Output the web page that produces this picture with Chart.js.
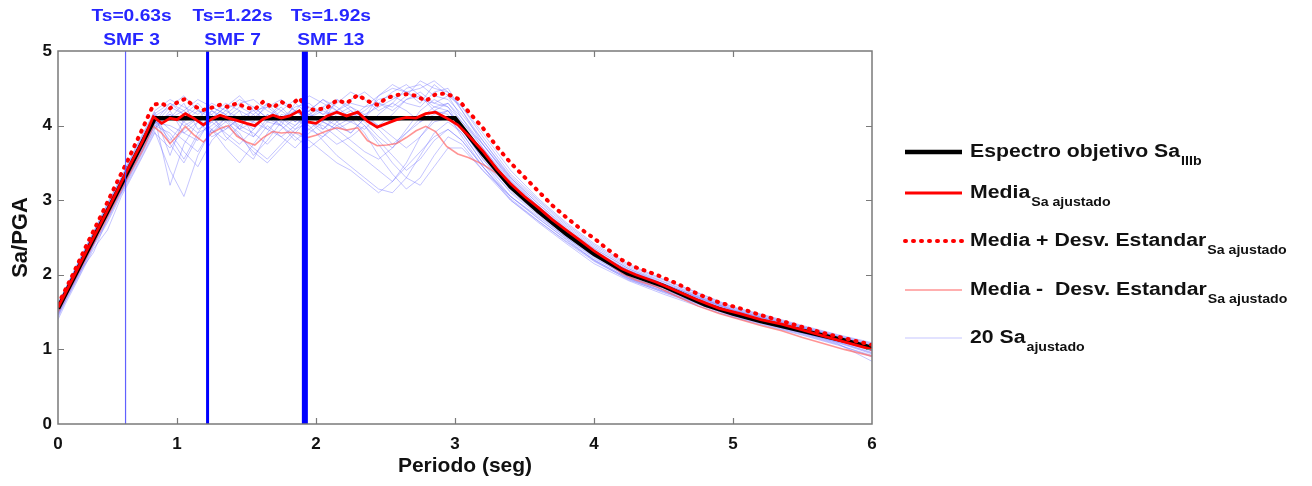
<!DOCTYPE html>
<html>
<head>
<meta charset="utf-8">
<script src="https://cdn.jsdelivr.net/npm/chart.js@4.4.0/dist/chart.umd.min.js"></script>
<style>
  html, body { margin: 0; padding: 0; background: #fff; }
  #wrap { width: 1312px; height: 486px; }
</style>
</head>
<body>
<div id="wrap"><canvas id="espectro" width="1312" height="486"></canvas></div>
<script>
// espectro objetivo Sa IIIb
const espectroT  = [0.144, 0.84, 3.0, 3.2, 3.4, 3.6, 3.8, 4.0, 4.24, 4.5, 4.8, 5.0, 5.2, 5.5, 5.8, 6.0];
const espectroSa = [1.55, 4.10, 4.10, 3.62, 3.18, 2.85, 2.55, 2.28, 2.02, 1.85, 1.60, 1.48, 1.38, 1.25, 1.12, 1.02];

// media y media +/- desviacion estandar de los Sa ajustados
const periodosMedia = [0.144, 0.25, 0.35, 0.45, 0.55, 0.65, 0.75, 0.83, 0.89, 0.95, 1.0, 1.06, 1.12, 1.19, 1.25, 1.31,
  1.37, 1.43, 1.5, 1.56, 1.62, 1.69, 1.75, 1.81, 1.88, 1.94, 2.0, 2.08, 2.15, 2.22, 2.3, 2.37, 2.44, 2.51, 2.58, 2.65,
  2.72, 2.79, 2.86, 2.94, 3.02, 3.1, 3.2, 3.3, 3.4, 3.5, 3.6, 3.7, 3.8, 3.9, 4.0, 4.1, 4.2, 4.3, 4.45, 4.6, 4.75, 4.9,
  5.05, 5.2, 5.35, 5.5, 5.65, 5.8, 6.0];
const media = [1.56, 1.95, 2.32, 2.68, 3.05, 3.43, 3.78, 4.12, 4.03, 4.10, 4.08, 4.16, 4.10, 4.01, 4.09, 4.14,
  4.10, 4.07, 4.03, 4.00, 4.09, 4.14, 4.10, 4.13, 4.20, 4.05, 4.03, 4.13, 4.18, 4.13, 4.18, 4.06, 3.98, 4.03, 4.08, 4.11,
  4.10, 4.16, 4.18, 4.10, 4.01, 3.86, 3.66, 3.42, 3.22, 3.05, 2.90, 2.74, 2.60, 2.46, 2.32, 2.20, 2.08, 2.00, 1.90, 1.78,
  1.66, 1.55, 1.48, 1.40, 1.34, 1.26, 1.18, 1.10, 1.00];
const mediaMas = [1.60, 2.00, 2.40, 2.78, 3.17, 3.55, 3.95, 4.28, 4.30, 4.23, 4.31, 4.36, 4.26, 4.21, 4.24, 4.28,
  4.25, 4.30, 4.24, 4.22, 4.32, 4.24, 4.32, 4.26, 4.37, 4.22, 4.21, 4.24, 4.34, 4.30, 4.41, 4.33, 4.28, 4.37, 4.41, 4.42,
  4.40, 4.33, 4.42, 4.43, 4.36, 4.18, 3.97, 3.72, 3.50, 3.31, 3.12, 2.93, 2.77, 2.62, 2.49, 2.34, 2.20, 2.10, 2.00, 1.88,
  1.74, 1.63, 1.55, 1.46, 1.38, 1.30, 1.22, 1.15, 1.06];
const mediaMenos = [1.50, 1.88, 2.24, 2.60, 2.96, 3.32, 3.66, 3.99, 3.90, 3.76, 3.86, 3.99, 3.88, 3.78, 3.90, 3.96,
  4.00, 3.86, 3.78, 3.74, 3.84, 3.92, 3.90, 3.91, 3.90, 3.84, 3.87, 3.93, 3.97, 3.94, 3.97, 3.80, 3.73, 3.74, 3.76, 3.84,
  3.93, 3.99, 3.92, 3.72, 3.62, 3.57, 3.48, 3.36, 3.20, 3.03, 2.86, 2.72, 2.56, 2.43, 2.30, 2.16, 2.02, 1.93, 1.84, 1.71,
  1.58, 1.48, 1.40, 1.32, 1.25, 1.16, 1.08, 1.00, 0.91];

// los 20 Sa ajustados
const periodos = [0.144, 0.2, 0.3, 0.4, 0.5, 0.6, 0.7, 0.84, 0.95, 1.05, 1.15, 1.25, 1.35, 1.45, 1.55, 1.65, 1.75,
  1.85, 1.95, 2.05, 2.15, 2.25, 2.35, 2.45, 2.55, 2.65, 2.75, 2.85, 2.95, 3.05, 3.2, 3.4, 3.6, 3.8, 4.0, 4.25, 4.5,
  4.75, 5.0, 5.25, 5.5, 5.75, 6.0];
const registros = [
  [1.52,1.74,2.10,2.45,2.80,3.20,3.55,4.05,4.30,4.15,4.05,4.20,4.10,3.95,4.25,4.10,4.00,4.30,4.15,4.05,4.35,4.20,4.10,4.40,4.50,4.45,4.30,4.55,4.40,4.10,3.70,3.25,2.90,2.60,2.32,2.05,1.88,1.70,1.52,1.40,1.28,1.16,1.04],
  [1.58,1.80,2.18,2.55,2.90,3.28,3.65,4.15,3.60,4.10,4.25,3.90,4.05,4.20,3.85,4.10,4.25,4.05,4.20,3.95,4.10,4.20,4.05,3.85,3.70,3.95,4.20,4.35,4.25,3.95,3.55,3.10,2.80,2.50,2.22,1.98,1.80,1.64,1.47,1.35,1.23,1.11,0.98],
  [1.45,1.66,2.02,2.40,2.75,3.10,3.45,3.95,4.20,3.90,3.80,4.10,4.25,3.95,4.05,4.30,4.10,3.95,4.15,4.25,4.05,3.90,4.10,4.30,4.45,4.55,4.40,4.20,4.30,4.05,3.75,3.30,2.95,2.62,2.35,2.08,1.90,1.72,1.54,1.42,1.30,1.18,1.06],
  [1.55,1.78,2.12,2.52,2.85,3.22,3.60,4.10,3.20,3.75,4.05,4.15,3.85,3.70,3.55,3.90,4.15,4.10,4.00,3.80,3.60,3.45,3.30,3.15,3.10,3.30,3.60,3.90,4.05,3.90,3.50,3.05,2.75,2.48,2.20,1.95,1.78,1.62,1.46,1.34,1.22,1.10,0.96],
  [1.62,1.82,2.20,2.58,2.95,3.30,3.70,4.20,4.35,4.25,4.15,4.30,4.20,4.35,4.25,4.10,4.30,4.20,4.40,4.30,4.20,4.35,4.45,4.30,4.25,4.40,4.60,4.50,4.45,4.25,3.85,3.35,3.00,2.68,2.40,2.12,1.93,1.75,1.56,1.44,1.31,1.19,1.08],
  [1.40,1.62,1.98,2.35,2.60,3.05,3.40,3.90,3.70,3.95,4.10,3.95,3.80,4.00,3.90,3.75,3.95,4.10,3.95,3.85,4.05,4.15,4.00,3.80,3.60,3.40,3.55,3.80,3.95,3.80,3.45,3.00,2.70,2.42,2.15,1.92,1.74,1.58,1.43,1.31,1.19,1.06,0.92],
  [1.50,1.72,2.08,2.48,2.82,3.18,3.50,4.00,4.10,4.30,3.95,4.05,4.20,4.10,3.95,4.15,4.05,3.90,4.10,4.20,4.10,4.05,3.95,4.15,4.30,4.20,4.05,4.15,4.20,4.00,3.60,3.15,2.85,2.56,2.28,2.02,1.85,1.68,1.50,1.38,1.26,1.14,1.01],
  [1.56,1.77,2.15,2.40,2.88,3.25,3.58,4.08,3.85,3.55,3.90,4.20,4.05,3.90,3.60,3.80,4.05,4.20,4.05,4.00,3.85,3.70,3.55,3.40,3.25,3.50,3.85,4.10,4.20,3.95,3.55,3.15,2.85,2.55,2.26,1.97,1.82,1.64,1.48,1.36,1.25,1.12,0.99],
  [1.48,1.70,2.05,2.46,2.78,3.15,3.52,4.02,4.25,4.15,4.30,4.10,4.25,4.40,4.20,4.05,4.20,4.35,4.25,4.15,4.30,4.45,4.35,4.20,4.30,4.50,4.55,4.40,4.35,4.15,3.80,3.30,2.95,2.64,2.36,2.08,1.88,1.71,1.53,1.41,1.29,1.17,1.05],
  [1.60,1.79,2.16,2.54,2.92,3.26,3.64,4.12,3.95,3.80,3.65,3.95,4.10,3.85,3.70,3.55,3.75,3.95,4.05,3.90,3.75,3.85,4.00,3.75,3.50,3.30,3.20,3.45,3.70,3.70,3.40,3.05,2.78,2.50,2.24,1.96,1.80,1.63,1.47,1.35,1.23,1.10,0.95],
  [1.53,1.75,2.11,2.50,2.86,3.21,3.57,4.06,4.15,4.05,4.20,4.10,3.95,4.10,4.20,4.25,4.10,4.00,4.20,4.35,4.25,4.10,4.20,4.35,4.40,4.30,4.25,4.45,4.50,4.20,3.75,3.28,2.92,2.60,2.30,2.06,1.87,1.69,1.52,1.40,1.27,1.15,1.03],
  [1.43,1.65,2.00,2.38,2.70,3.08,3.42,3.92,3.40,3.05,3.60,3.95,3.70,3.50,3.75,4.00,3.85,3.70,3.90,4.05,3.95,3.80,3.65,3.55,3.70,3.90,4.05,4.20,4.15,3.85,3.45,3.02,2.72,2.44,2.18,1.94,1.76,1.60,1.44,1.32,1.20,1.07,0.90],
  [1.57,1.80,2.17,2.53,2.90,3.27,3.63,4.13,4.25,4.40,4.20,4.15,4.30,4.20,4.10,4.25,4.35,4.20,4.10,4.25,4.35,4.25,4.15,4.25,4.35,4.45,4.50,4.60,4.45,4.20,3.80,3.32,2.98,2.66,2.38,2.10,1.91,1.73,1.55,1.43,1.30,1.18,1.07],
  [1.51,1.73,2.09,2.47,2.83,3.19,3.54,4.04,4.00,3.90,4.05,3.85,3.95,4.10,4.05,3.95,3.85,4.00,4.15,4.05,3.95,4.05,4.15,4.00,3.85,3.70,3.85,4.05,4.10,3.90,3.50,3.12,2.82,2.52,2.25,2.00,1.83,1.66,1.49,1.37,1.25,1.13,1.00],
  [1.47,1.69,2.04,2.30,2.76,3.14,3.50,4.00,3.90,3.65,3.45,3.80,4.00,3.85,3.65,3.50,3.70,3.90,3.80,3.65,3.50,3.40,3.25,3.10,3.25,3.45,3.65,3.85,3.95,3.80,3.45,3.05,2.76,2.47,2.19,1.93,1.77,1.61,1.45,1.33,1.21,1.08,0.84],
  [1.59,1.81,2.19,2.56,2.93,3.29,3.66,4.16,4.30,4.20,4.35,4.25,4.15,4.30,4.35,4.20,4.10,4.25,4.30,4.15,4.20,4.30,4.25,4.40,4.55,4.45,4.35,4.30,4.40,4.25,3.90,3.40,3.02,2.70,2.42,2.14,1.94,1.76,1.57,1.45,1.32,1.20,1.09],
  [1.54,1.76,2.13,2.42,2.87,3.10,3.56,4.07,3.80,4.05,3.90,4.00,4.15,3.95,3.85,4.05,4.00,3.80,3.95,4.10,4.00,3.90,4.10,3.95,3.75,3.90,4.10,4.25,4.20,3.95,3.60,3.18,2.86,2.56,2.28,2.00,1.84,1.67,1.50,1.38,1.26,1.14,1.00],
  [1.46,1.67,2.03,2.41,2.72,3.12,3.47,3.97,4.10,4.20,4.05,3.90,4.10,4.25,4.15,3.95,4.10,4.20,4.05,3.95,4.15,4.25,4.10,4.00,4.15,4.35,4.45,4.30,4.25,4.05,3.70,3.22,2.88,2.58,2.30,2.04,1.86,1.69,1.51,1.39,1.27,1.15,1.02],
  [1.61,1.83,2.21,2.57,2.96,3.31,3.68,4.18,3.75,3.50,3.85,4.05,3.90,3.75,3.95,4.15,4.00,3.85,3.70,3.85,4.00,4.10,3.90,3.60,3.35,3.15,3.30,3.60,3.85,3.75,3.40,3.00,2.72,2.45,2.20,1.95,1.78,1.62,1.46,1.34,1.22,1.09,0.94],
  [1.49,1.71,2.07,2.44,2.80,3.16,3.53,4.03,4.15,4.00,4.10,4.25,4.15,4.00,4.15,4.30,4.20,4.05,4.20,4.35,4.20,4.10,4.25,4.30,4.20,4.35,4.40,4.25,4.30,4.10,3.75,3.26,2.92,2.61,2.33,2.06,1.88,1.70,1.53,1.41,1.29,1.16,1.04]
];

// periodos Ts de los registros marcados
const tsValores = [0.63, 1.22, 1.92];
const tsTextos = ['Ts=0.63s', 'Ts=1.22s', 'Ts=1.92s'];
const smfTextos = ['SMF 3', 'SMF 7', 'SMF 13'];

// ejes
const xTicks = [0.144, 1, 2, 3, 4, 5, 6];
const xTickLabels = ['0', '1', '2', '3', '4', '5', '6'];
const yTicks = [0, 1, 2, 3, 4, 5];

// leyenda: texto principal y subindice
const leyendaTextos = ['Espectro objetivo Sa', 'Media', 'Media + Desv. Estandar', 'Media -  Desv. Estandar', '20 Sa'];
const leyendaSub = ['IIIb', 'Sa ajustado', 'Sa ajustado', 'Sa ajustado', 'ajustado'];

const FONT = '"Liberation Sans", Arial, Helvetica, sans-serif';

function puntos(xs, ys) {
    return xs.map((x, i) => ({ x: x, y: ys[i] }));
}

// estilos de cada serie (tambien usados por la leyenda)
const estiloNegro = { borderColor: '#000000', borderWidth: 4.5 };
const estiloMedia = { borderColor: '#ff0000', borderWidth: 2.8 };
const estiloMas = { borderColor: '#ff0000', borderWidth: 4, borderDash: [1, 7], borderCapStyle: 'round' };
const estiloMenos = { borderColor: 'rgba(255,90,90,0.65)', borderWidth: 1.6 };
const estiloAzul = { borderColor: 'rgba(110,110,255,0.4)', borderWidth: 1 };
const anchosTs = [1.2, 3, 6];
const coloresTs = ['rgba(80,80,255,0.9)', '#0000ff', '#0000ff'];

const datasets = [];
tsValores.forEach((t, i) => {
    datasets.push({ data: [{ x: t, y: 0 }, { x: t, y: 5 }], borderColor: coloresTs[i], borderWidth: anchosTs[i], order: 0 });
});
datasets.push(Object.assign({ data: puntos(periodosMedia, mediaMas), order: 1 }, estiloMas));
datasets.push(Object.assign({ data: puntos(periodosMedia, media), order: 2 }, estiloMedia));
datasets.push(Object.assign({ data: puntos(espectroT, espectroSa), order: 3 }, estiloNegro));
datasets.push(Object.assign({ data: puntos(periodosMedia, mediaMenos), order: 4 }, estiloMenos));
registros.forEach(r => {
    datasets.push(Object.assign({ data: puntos(periodos, r), order: 5 }, estiloAzul));
});

function textoEstirado(ctx, texto, x, y, sx) {
    ctx.save();
    ctx.translate(x, y);
    ctx.scale(sx, 1);
    ctx.fillText(texto, 0, 0);
    ctx.restore();
    return ctx.measureText(texto).width * sx;
}

// marco, ticks hacia adentro, etiquetas Ts y leyenda
const adornos = {
    id: 'adornos',
    afterDraw(chart) {
        const ctx = chart.ctx;
        const a = chart.chartArea;
        const xs = chart.scales.x, ys = chart.scales.y;
        ctx.save();
        ctx.strokeStyle = '#7a7a7a';
        ctx.lineWidth = 1.5;
        ctx.strokeRect(a.left, a.top, a.right - a.left, a.bottom - a.top);
        ctx.lineWidth = 1.2;
        ctx.beginPath();
        xTicks.slice(1, -1).forEach(v => {
            const px = Math.round(xs.getPixelForValue(v)) + 0.5;
            ctx.moveTo(px, a.bottom); ctx.lineTo(px, a.bottom - 6);
            ctx.moveTo(px, a.top); ctx.lineTo(px, a.top + 6);
        });
        yTicks.slice(1, -1).forEach(v => {
            const py = Math.round(ys.getPixelForValue(v)) + 0.5;
            ctx.moveTo(a.left, py); ctx.lineTo(a.left + 6, py);
            ctx.moveTo(a.right, py); ctx.lineTo(a.right - 6, py);
        });
        ctx.stroke();

        // etiquetas de los Ts
        const desplaz = [6, 25, 26];
        ctx.fillStyle = '#2626ff';
        ctx.font = 'bold 17px ' + FONT;
        ctx.textAlign = 'center';
        ctx.textBaseline = 'middle';
        tsValores.forEach((t, i) => {
            const px = xs.getPixelForValue(t) + desplaz[i];
            textoEstirado(ctx, tsTextos[i], px, 16, 1.13);
            textoEstirado(ctx, smfTextos[i], px, 40, 1.13);
        });

        // leyenda
        const estilos = [estiloNegro, estiloMedia, estiloMas, estiloMenos, estiloAzul];
        const filas = [152, 193, 241, 290, 338];
        ctx.textAlign = 'left';
        estilos.forEach((e, i) => {
            const y = filas[i];
            ctx.save();
            ctx.strokeStyle = e.borderColor;
            ctx.lineWidth = e.borderWidth;
            ctx.lineCap = e.borderCapStyle || 'butt';
            ctx.setLineDash(e.borderDash || []);
            ctx.beginPath();
            ctx.moveTo(905, y); ctx.lineTo(962, y);
            ctx.stroke();
            ctx.restore();
            ctx.fillStyle = '#111';
            ctx.font = 'bold 18px ' + FONT;
            ctx.textBaseline = 'middle';
            const w = textoEstirado(ctx, leyendaTextos[i], 970, y, 1.18);
            ctx.font = 'bold 12px ' + FONT;
            ctx.textBaseline = 'alphabetic';
            textoEstirado(ctx, leyendaSub[i], 970 + w + 1, y + 13, 1.18);
        });
        ctx.restore();
    }
};

new Chart(document.getElementById('espectro').getContext('2d'), {
    type: 'line',
    data: { datasets: datasets },
    options: {
        responsive: false,
        animation: false,
        parsing: true,
        elements: { point: { radius: 0 }, line: { tension: 0 } },
        layout: { padding: { left: 0, right: 440, top: 51, bottom: 0 } },
        plugins: { legend: { display: false }, tooltip: { enabled: false } },
        scales: {
            x: {
                type: 'linear',
                min: xTicks[0],
                max: 6,
                afterBuildTicks: s => { s.ticks = xTicks.map(v => ({ value: v })); },
                afterFit: s => { s.height = 62; },
                grid: { display: false, drawTicks: false },
                border: { display: false },
                ticks: {
                    autoSkip: false, maxRotation: 0, padding: 10, color: '#111',
                    font: { family: FONT, size: 17, weight: 'bold' },
                    callback: (v, i) => xTickLabels[i]
                },
                title: {
                    display: true, text: 'Periodo (seg)', color: '#111',
                    font: { family: FONT, size: 21, weight: 'bold' },
                    padding: { top: 0, bottom: 7 }
                }
            },
            y: {
                min: 0,
                max: 5,
                afterBuildTicks: s => { s.ticks = yTicks.map(v => ({ value: v })); },
                afterFit: s => { s.width = 58; },
                grid: { display: false, drawTicks: false },
                border: { display: false },
                ticks: {
                    padding: 6, color: '#111',
                    font: { family: FONT, size: 17, weight: 'bold' }
                },
                title: {
                    display: true, text: 'Sa/PGA', color: '#111',
                    font: { family: FONT, size: 22, weight: 'bold' },
                    padding: { top: 8, bottom: 0 }
                }
            }
        }
    },
    plugins: [adornos]
});
</script>
</body>
</html>
